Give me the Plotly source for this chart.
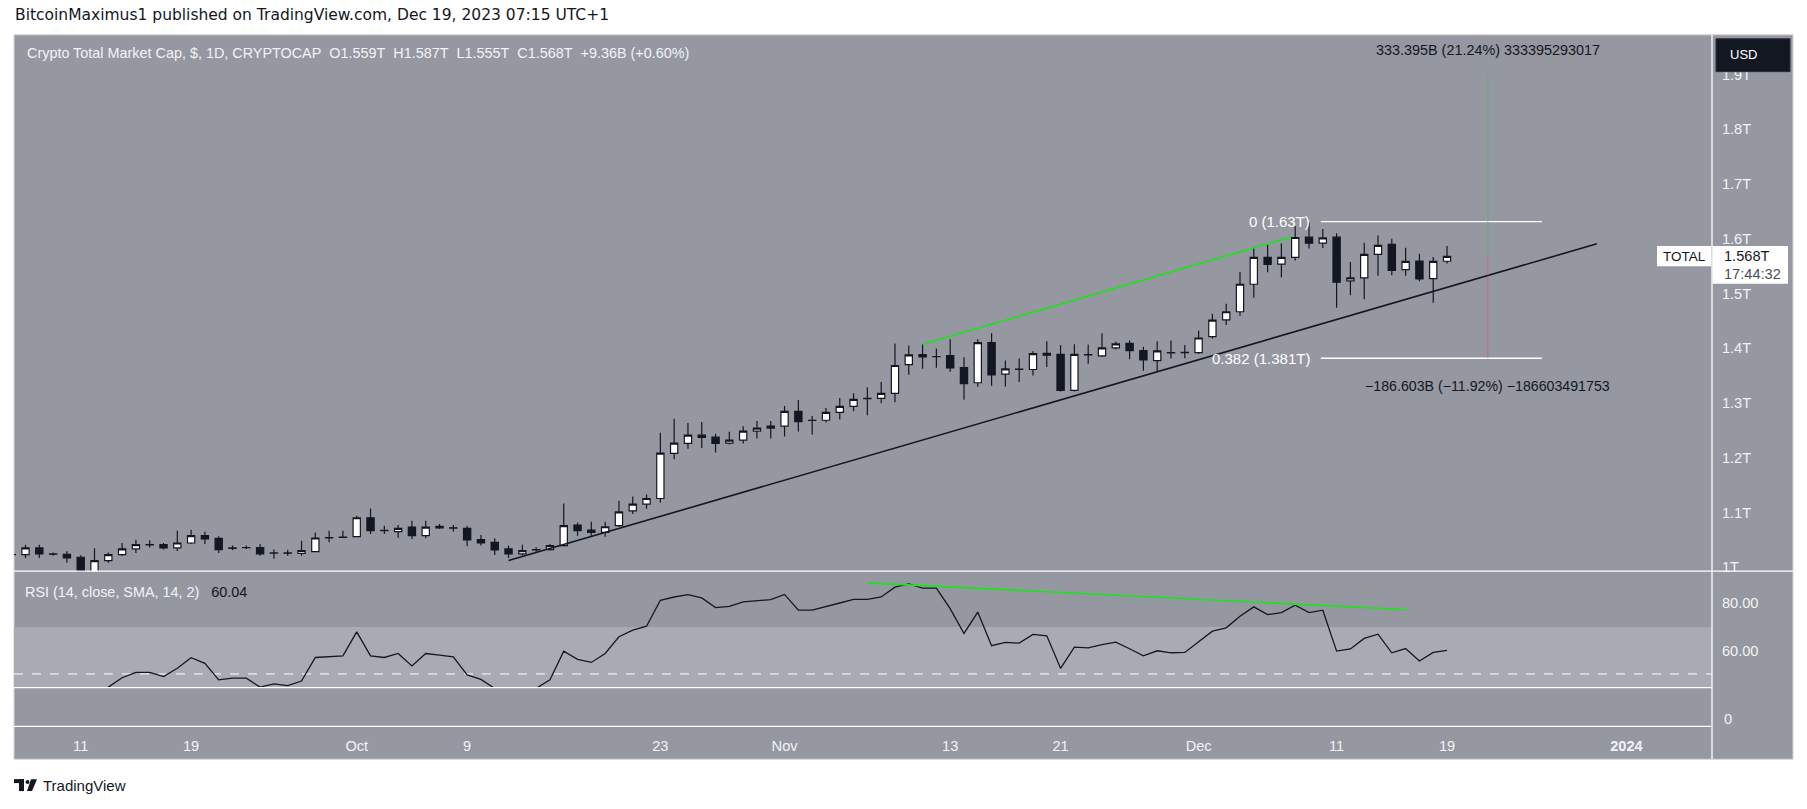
import plotly.graph_objects as go
import pandas as pd

W, H = 1807, 809

# ---------------- data ----------------
candle_start = "2023-09-06"
open_ = [1.0230, 1.0230, 1.0352, 1.0242, 1.0236, 1.0182, 0.9900, 1.0120, 1.0230, 1.0333,
         1.0412, 1.0412, 1.0352, 1.0442, 1.0576, 1.0527, 1.0345, 1.0358, 1.0358, 1.0255,
         1.0260, 1.0250, 1.0285, 1.0536, 1.0545,
         1.0558, 1.0903, 1.0667, 1.0648, 1.0733, 1.0576, 1.0745, 1.0720, 1.0709, 1.0503,
         1.0455, 1.0333, 1.0242, 1.0318, 1.0321, 1.0394, 1.0770, 1.0679, 1.0636, 1.0758,
         1.1030, 1.1152, 1.1255, 1.2079, 1.2261, 1.2412, 1.2376, 1.2267, 1.2321, 1.2485,
         1.2540,
         1.2576, 1.2848, 1.2680, 1.2685, 1.2830, 1.2940, 1.3080, 1.3085, 1.3176, 1.3703,
         1.3885, 1.3848, 1.3867, 1.3648, 1.3370, 1.4103, 1.3527, 1.3612, 1.3612, 1.3909,
         1.3890, 1.3230, 1.3880, 1.3860, 1.4006, 1.4091, 1.3958, 1.3776, 1.3915, 1.3920,
         1.3921, 1.4212, 1.4520, 1.4667, 1.5170, 1.5660, 1.5539, 1.5660, 1.6030, 1.5920,
         1.6030, 1.5230, 1.5285, 1.5715, 1.5897, 1.5436, 1.5594, 1.5273, 1.5590]
high = [1.0260, 1.0412, 1.0412, 1.0270, 1.0290, 1.0220, 1.0345, 1.0270, 1.0442, 1.0503,
        1.0490, 1.0442, 1.0667, 1.0685, 1.0648, 1.0564, 1.0394, 1.0394, 1.0424, 1.0321,
        1.0320, 1.0485, 1.0636, 1.0667, 1.0667,
        1.0940, 1.1073, 1.0758, 1.0770, 1.0848, 1.0848, 1.0788, 1.0770, 1.0758, 1.0588,
        1.0527, 1.0394, 1.0412, 1.0364, 1.0424, 1.1164, 1.0818, 1.0830, 1.0830, 1.1212,
        1.1290, 1.1330, 1.2455, 1.2710, 1.2636, 1.2655, 1.2436, 1.2473, 1.2576, 1.2673,
        1.2673,
        1.2945, 1.3055, 1.2764, 1.2909, 1.3090, 1.3176, 1.3290, 1.3382, 1.4085, 1.4049,
        1.4073, 1.3994, 1.4164, 1.3836, 1.4164, 1.4273, 1.3776, 1.3812, 1.3945, 1.4127,
        1.4060, 1.4073, 1.4067, 1.4273, 1.4120, 1.4140, 1.4030, 1.4127, 1.4140, 1.4060,
        1.4321, 1.4630, 1.4812, 1.5394, 1.5836, 1.5890, 1.5920, 1.6230, 1.6300, 1.6180,
        1.6103, 1.5576, 1.5927, 1.6060, 1.6000, 1.5836, 1.5727, 1.5667, 1.5870]
low = [1.0200, 1.0170, 1.0170, 1.0210, 1.0079, 0.9780, 0.9860, 1.0079, 1.0206, 1.0260,
       1.0360, 1.0321, 1.0297, 1.0424, 1.0424, 1.0260, 1.0309, 1.0333, 1.0210, 1.0152,
       1.0210, 1.0210, 1.0273, 1.0455, 1.0533,
       1.0545, 1.0606, 1.0606, 1.0540, 1.0515, 1.0527, 1.0700, 1.0648, 1.0382, 1.0394,
       1.0224, 1.0170, 1.0210, 1.0280, 1.0303, 1.0376, 1.0576, 1.0576, 1.0558, 1.0740,
       1.0970, 1.1070, 1.1180, 1.1970, 1.2164, 1.2180, 1.2097, 1.2242, 1.2261, 1.2352,
       1.2352,
       1.2388, 1.2479, 1.2424, 1.2642, 1.2697, 1.2848, 1.2776, 1.2994, 1.3012, 1.3515,
       1.3624, 1.3642, 1.3570, 1.3060, 1.3297, 1.3315, 1.3303, 1.3382, 1.3503, 1.3660,
       1.3212, 1.3212, 1.3715, 1.3840, 1.3976, 1.3800, 1.3588, 1.3576, 1.3812, 1.3818,
       1.3897, 1.4180, 1.4424, 1.4594, 1.4921, 1.5388, 1.5297, 1.5606, 1.5824, 1.5830,
       1.4740, 1.4970, 1.4897, 1.5327, 1.5333, 1.5327, 1.5224, 1.4830, 1.5550]
close = [1.0232, 1.0352, 1.0242, 1.0236, 1.0170, 0.9900, 1.0120, 1.0230, 1.0333, 1.0412,
         1.0406, 1.0352, 1.0442, 1.0576, 1.0515, 1.0321, 1.0352, 1.0360, 1.0242, 1.0260,
         1.0255, 1.0303, 1.0533, 1.0540, 1.0550,
         1.0903, 1.0667, 1.0673, 1.0709, 1.0576, 1.0733, 1.0720, 1.0715, 1.0497, 1.0442,
         1.0315, 1.0242, 1.0303, 1.0321, 1.0394, 1.0758, 1.0667, 1.0636, 1.0739, 1.1012,
         1.1152, 1.1255, 1.2085, 1.2267, 1.2412, 1.2370, 1.2261, 1.2321, 1.2485, 1.2540,
         1.2576,
         1.2848, 1.2661, 1.2685, 1.2830, 1.2940, 1.3067, 1.3085, 1.3176, 1.3685, 1.3879,
         1.3842, 1.3850, 1.3642, 1.3352, 1.4103, 1.3515, 1.3624, 1.3618, 1.3903, 1.3873,
         1.3230, 1.3890, 1.3885, 1.4006, 1.4079, 1.3958, 1.3788, 1.3952, 1.3920, 1.3927,
         1.4188, 1.4515, 1.4667, 1.5170, 1.5660, 1.5533, 1.5660, 1.6024, 1.5920, 1.6018,
         1.5206, 1.5285, 1.5715, 1.5879, 1.5424, 1.5588, 1.5267, 1.5588, 1.5680]

rsi_start = "2023-09-12"
rsi = [42.0, 44.4, 48.4, 50.7, 50.7, 48.9, 52.4, 56.9, 54.5, 47.5,
       48.2, 48.2, 44.4, 45.8, 45.05, 47.0, 57.0, 57.3, 57.7,
       67.9, 57.7, 57.0, 58.7, 53.4, 58.7, 58.0, 57.3, 49.6, 47.7,
       43.8, 40.5, 41.5, 43.9, 47.5, 59.7, 56.2, 54.9, 58.7, 65.8,
       68.6, 70.3, 81.3, 82.7, 83.7, 82.3, 78.2, 78.75, 80.6, 81.0, 81.6,
       83.8, 77.1, 77.1, 78.75, 80.15, 81.7, 81.7, 82.7, 86.9, 88.3,
       86.5, 86.5, 77.75, 67.2, 76.3, 62.0, 63.4, 63.1, 66.8, 66.2,
       52.4, 61.4, 61.1, 62.5, 63.5, 60.7, 57.7, 59.85, 59.0, 59.15,
       63.7, 68.2, 69.6, 74.5, 78.5, 75.2, 76.1, 79.2, 76.1, 77.1,
       59.7, 60.6, 65.1, 66.9, 59.0, 60.8, 55.5, 59.15, 60.04]

tick_dates = ["2023-09-11", "2023-09-19", "2023-10-01", "2023-10-09", "2023-10-23", "2023-11-01",
              "2023-11-13", "2023-11-21", "2023-12-01", "2023-12-11", "2023-12-19", "2024-01-01"]
tick_text = ["11", "19", "Oct", "9", "23", "Nov", "13", "21", "Dec", "11", "19", "<b>2024</b>"]

price_ticks = [1.0, 1.1, 1.2, 1.3, 1.4, 1.5, 1.6, 1.7, 1.8, 1.9]
price_tick_text = ["1T", "1.1T", "1.2T", "1.3T", "1.4T", "1.5T", "1.6T", "1.7T", "1.8T", "1.9T"]
rsi_ticks = [60, 80]
rsi_tick_text = ["60.00", "80.00"]

# drawings (day offset from anchor, value)
anchor = pd.Timestamp("2023-09-11")
support_line = [(31.0, 1.0121), (109.86, 1.5909)]
price_green_line = [(61.0, 1.4073), (87.64, 1.6030)]
rsi_green_line = [(57.0, 88.7), (96.1, 77.3)]
fib_levels = [(0.0, 1.6315, "0 (1.63T)"), (0.382, 1.3818, "0.382 (1.381T)")]
fib_span = (89.86, 105.87)
measure_day = 101.96
measure_base = 1.568
measure_up = 0.333395293017
measure_down = -0.186603491753
measure_up_text = "333.395B (21.24%) 333395293017"
measure_down_text = "\u2212186.603B (\u221211.92%) \u2212186603491753"

header_text = "BitcoinMaximus1 published on TradingView.com, Dec 19, 2023 07:15 UTC+1"
legend_text = ("Crypto Total Market Cap, $, 1D, CRYPTOCAP&nbsp;&nbsp;O1.559T&nbsp;&nbsp;H1.587T"
               "&nbsp;&nbsp;L1.555T&nbsp;&nbsp;C1.568T&nbsp;&nbsp;+9.36B (+0.60%)")
last_price_text = "1.568T"
countdown_text = "17:44:32"

# ---------------- layout constants ----------------
BG = "#9598a1"
BAND = "#a9abb4"
DARK = "#131722"
LIGHT = "#f2f3f6"
FONT = "Liberation Sans, Arial, sans-serif"
HEADER_FONT = "DejaVu Sans, Verdana, sans-serif"


def px(x):
    return x / W


def py(y):
    return 1 - y / H


def day(d):
    return (anchor + pd.Timedelta(days=d)).strftime("%Y-%m-%d %H:%M:%S")


x_left, x_right = 14, 1712
main_top, main_bot = 35, 574
rsi_bot = 691
pane3_bot = 730
axis_bot = 763
right_edge = 1793

xrange_ = [day(-4.833), day(118.2)]
yrange_main = [0.99273, 1.97273]
yrange_rsi = [44.207, 93.68]

candle_dates = pd.date_range(candle_start, periods=len(close), freq="D")
rsi_dates = pd.date_range(rsi_start, periods=len(rsi), freq="D")

fig = go.Figure()
fig.add_trace(go.Candlestick(
    x=candle_dates, open=open_, high=high, low=low, close=close,
    increasing=dict(line=dict(color=DARK, width=1.2), fillcolor="#ffffff"),
    decreasing=dict(line=dict(color=DARK, width=1.2), fillcolor=DARK),
    whiskerwidth=0, hoverinfo="skip", xaxis="x", yaxis="y", showlegend=False))
fig.add_trace(go.Scatter(
    x=rsi_dates, y=rsi, mode="lines", line=dict(color=DARK, width=1.3),
    hoverinfo="skip", xaxis="x2", yaxis="y2", showlegend=False))
fig.add_trace(go.Scatter(x=[candle_dates[0]], y=[None], mode="lines",
                         xaxis="x3", yaxis="y3", showlegend=False, hoverinfo="skip"))

shapes = []
# chart background
shapes.append(dict(type="rect", xref="paper", yref="paper", x0=px(x_left), x1=px(right_edge),
                   y0=py(axis_bot), y1=py(main_top), fillcolor=BG,
                   line=dict(color="#d3d5dc", width=1), layer="below"))
# RSI band 30-70
shapes.append(dict(type="rect", xref="x2 domain", yref="y2", x0=0, x1=1, y0=30, y1=70,
                   fillcolor=BAND, line=dict(width=0), layer="below"))
shapes.append(dict(type="line", xref="x2 domain", yref="y2", x0=0, x1=1, y0=50, y1=50,
                   line=dict(color="#ffffff", width=1, dash="dash"), layer="below"))
# separators
for (yy, xe) in [(main_bot, right_edge), (rsi_bot, x_right), (pane3_bot, x_right)]:
    shapes.append(dict(type="line", xref="paper", yref="paper", x0=px(x_left), x1=px(xe),
                       y0=py(yy), y1=py(yy), line=dict(color="#ffffff", width=1.3)))
shapes.append(dict(type="line", xref="paper", yref="paper", x0=px(x_right), x1=px(x_right),
                   y0=py(axis_bot), y1=py(main_top), line=dict(color="#ffffff", width=1.3)))
# trend lines
shapes.append(dict(type="line", xref="x", yref="y", x0=day(support_line[0][0]), y0=support_line[0][1],
                   x1=day(support_line[1][0]), y1=support_line[1][1], line=dict(color=DARK, width=1.6)))
shapes.append(dict(type="line", xref="x", yref="y", x0=day(price_green_line[0][0]), y0=price_green_line[0][1],
                   x1=day(price_green_line[1][0]), y1=price_green_line[1][1], line=dict(color="#19e619", width=1.6)))
shapes.append(dict(type="line", xref="x2", yref="y2", x0=day(rsi_green_line[0][0]), y0=rsi_green_line[0][1],
                   x1=day(rsi_green_line[1][0]), y1=rsi_green_line[1][1], line=dict(color="#19e619", width=1.6)))
# fib lines
for lvl, val, lab in fib_levels:
    shapes.append(dict(type="line", xref="x", yref="y", x0=day(fib_span[0]), x1=day(fib_span[1]),
                       y0=val, y1=val, line=dict(color="#ffffff", width=1.3)))
# measure
shapes.append(dict(type="line", xref="x", yref="y", x0=day(measure_day), x1=day(measure_day),
                   y0=measure_base, y1=measure_base + measure_up, line=dict(color="rgba(60,190,80,0.55)", width=1)))
shapes.append(dict(type="line", xref="x", yref="y", x0=day(measure_day), x1=day(measure_day),
                   y0=measure_base, y1=measure_base + measure_down, line=dict(color="rgba(230,60,70,0.45)", width=1)))

# price axis tags
tpp = (yrange_main[1] - yrange_main[0]) / (main_bot - main_top)  # value per px
c_last = close[-1]
shapes.append(dict(type="rect", xref="paper", yref="y", x0=px(1712.5), x1=px(1788),
                   y0=c_last - 27.5 * tpp, y1=c_last + 10.5 * tpp, fillcolor="#ffffff", line=dict(width=0)))
shapes.append(dict(type="rect", xref="paper", yref="y", x0=px(1657), x1=px(1711),
                   y0=c_last - 10 * tpp, y1=c_last + 10.5 * tpp, fillcolor="#ffffff", line=dict(width=0)))
# USD button (covers most of the 1.9T label)
shapes.append(dict(type="rect", xref="paper", yref="paper", x0=px(1716), x1=px(1790),
                   y0=py(72), y1=py(39), fillcolor=DARK, line=dict(color="#2a2e39", width=1)))

# TradingView logo
logo = DARK
shapes.append(dict(type="rect", xref="paper", yref="paper", x0=px(14), x1=px(24), y0=py(787), y1=py(783),
                   fillcolor=logo, line=dict(width=0)))
shapes.append(dict(type="rect", xref="paper", yref="paper", x0=px(19), x1=px(24), y0=py(795), y1=py(783),
                   fillcolor=logo, line=dict(width=0)))
shapes.append(dict(type="circle", xref="paper", yref="paper", x0=px(25.5), x1=px(29.5), y0=py(788), y1=py(784),
                   fillcolor=logo, line=dict(width=0)))
shapes.append(dict(type="path", xref="paper", yref="paper",
                   path=f"M {px(31)} {py(783)} L {px(37)} {py(783)} L {px(32)} {py(795)} L {px(27)} {py(795)} Z",
                   fillcolor=logo, line=dict(width=0)))

ann = []
ann.append(dict(text=header_text, xref="paper", yref="paper", x=px(13), y=py(15), xanchor="left",
                yanchor="middle", showarrow=False, font=dict(family=HEADER_FONT, size=15.5, color=DARK)))
ann.append(dict(text=legend_text, xref="paper", yref="paper", x=px(25), y=py(53), xanchor="left",
                yanchor="middle", showarrow=False, font=dict(family=FONT, size=14.4, color=LIGHT)))
ann.append(dict(text='RSI (14, close, SMA, 14, 2)&nbsp;&nbsp;&nbsp;<span style="color:#131722">60.04</span>',
                xref="paper", yref="paper", x=px(23), y=py(595), xanchor="left", yanchor="middle",
                showarrow=False, font=dict(family=FONT, size=14.4, color=LIGHT)))
for lvl, val, lab in fib_levels:
    ann.append(dict(text=lab, xref="x", yref="y", x=day(fib_span[0]), y=val, xanchor="right",
                    yanchor="middle", xshift=-9, showarrow=False, font=dict(family=FONT, size=15, color="#ffffff")))
ann.append(dict(text=measure_up_text, xref="x", yref="paper", x=day(measure_day), y=py(50),
                xanchor="center", yanchor="middle", showarrow=False, font=dict(family=FONT, size=14.4, color=DARK)))
ann.append(dict(text=measure_down_text, xref="x", yref="y", x=day(measure_day), y=measure_base + measure_down,
                xanchor="center", yanchor="middle", yshift=-28, showarrow=False,
                font=dict(family=FONT, size=14.2, color=DARK)))
ann.append(dict(text="TOTAL", xref="paper", yref="y", x=px(1684), y=c_last, xanchor="center", yanchor="middle",
                showarrow=False, font=dict(family=FONT, size=13.5, color=DARK)))
ann.append(dict(text=last_price_text, xref="paper", yref="y", x=px(1722), y=c_last, xanchor="left",
                yanchor="middle", showarrow=False, font=dict(family=FONT, size=14.6, color=DARK)))
ann.append(dict(text=countdown_text, xref="paper", yref="y", x=px(1722), y=c_last, yshift=-18, xanchor="left",
                yanchor="middle", showarrow=False, font=dict(family=FONT, size=14.6, color="#4a4e59")))
ann.append(dict(text="USD", xref="paper", yref="paper", x=px(1728), y=py(55), xanchor="left", yanchor="middle",
                showarrow=False, font=dict(family=FONT, size=13, color="#ffffff")))
ann.append(dict(text="0", xref="paper", yref="paper", x=px(1722), y=py(723), xanchor="left", yanchor="middle",
                showarrow=False, font=dict(family=FONT, size=14.6, color=LIGHT)))
ann.append(dict(text="TradingView", xref="paper", yref="paper", x=px(41), y=py(789), xanchor="left",
                yanchor="middle", showarrow=False, font=dict(family=FONT, size=15, color=DARK)))

xdom = [px(x_left), px(x_right)]
common_x = dict(type="date", range=xrange_, domain=xdom, showgrid=False, zeroline=False,
                showline=False, fixedrange=True)
axis_font = dict(family=FONT, size=14.6, color=LIGHT)

fig.update_layout(
    width=W, height=H, margin=dict(l=0, r=0, t=0, b=0),
    paper_bgcolor="#ffffff", plot_bgcolor="rgba(0,0,0,0)",
    showlegend=False, boxgap=0.25,
    xaxis=dict(**common_x, anchor="y", showticklabels=False, rangeslider=dict(visible=False)),
    xaxis2=dict(**common_x, anchor="y2", showticklabels=False),
    xaxis3=dict(**common_x, anchor="y3", showticklabels=True, tickvals=tick_dates, ticktext=tick_text,
                ticks="outside", ticklen=6, tickcolor="rgba(0,0,0,0)", tickfont=axis_font),
    yaxis=dict(domain=[py(main_bot), py(main_top)], range=yrange_main, side="right", anchor="x",
               tickvals=price_ticks, ticktext=price_tick_text, ticks="outside", ticklen=6,
               tickcolor="rgba(0,0,0,0)", showgrid=False, zeroline=False, tickfont=axis_font),
    yaxis2=dict(domain=[py(rsi_bot), py(main_bot)], range=yrange_rsi, side="right", anchor="x2",
                tickvals=rsi_ticks, ticktext=rsi_tick_text, ticks="outside", ticklen=6,
                tickcolor="rgba(0,0,0,0)", showgrid=False, zeroline=False, tickfont=axis_font),
    yaxis3=dict(domain=[py(pane3_bot), py(rsi_bot)], range=[-0.2, 1], side="right", anchor="x3",
                showticklabels=False, showgrid=False, zeroline=False),
    shapes=shapes, annotations=ann,
)

fig.write_html("out.html", config={"displayModeBar": False},
               post_script="document.body.style.margin='0';document.body.style.overflow='hidden';")
